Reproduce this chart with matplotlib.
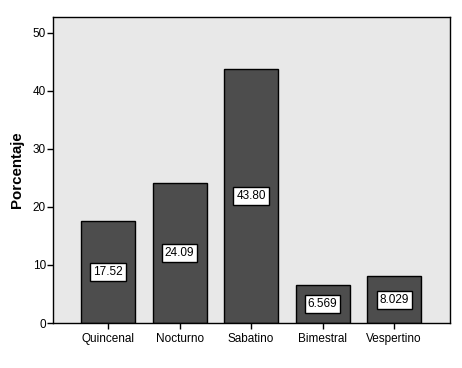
import matplotlib
matplotlib.use("Agg")
import matplotlib.pyplot as plt

categories = ["Quincenal", "Nocturno", "Sabatino", "Bimestral", "Vespertino"]
values = [17.52, 24.09, 43.80, 6.569, 8.029]
labels = ["17.52", "24.09", "43.80", "6.569", "8.029"]

plt.rcParams['font.family'] = ['Liberation Sans', 'DejaVu Sans']

fig = plt.figure(figsize=(4.62, 3.68), dpi=100)
ax = fig.add_axes([53/462, 45/368, 397/462, 306/368])
ax.set_facecolor('#e8e8e8')

x = list(range(len(categories)))
ax.bar(x, values, width=0.755, color='#4d4d4d', edgecolor='black', linewidth=1.0, zorder=2)
for xi, v, lab in zip(x, values, labels):
    ax.text(xi, v / 2, lab, ha='center', va='center', fontsize=8.5, color='black', zorder=3,
            bbox=dict(boxstyle='square,pad=0.25', facecolor='white', edgecolor='black', linewidth=1.0))

ax.set_xlim(-0.77, 4.78)
ax.set_ylim(0, 52.7)
ax.set_yticks([0, 10, 20, 30, 40, 50])
ax.set_xticks(x)
ax.set_xticklabels(categories, fontsize=8.5)
ax.tick_params(axis='y', labelsize=8.5, direction='out', length=4, width=1, pad=1)
ax.tick_params(axis='x', direction='out', length=4, width=1, pad=3)
for s in ax.spines.values():
    s.set_linewidth(1.0)
    s.set_color('black')
ax.set_ylabel('Porcentaje', fontsize=10.8, fontweight='bold', labelpad=6)

fig.savefig('out.png', dpi=100)
